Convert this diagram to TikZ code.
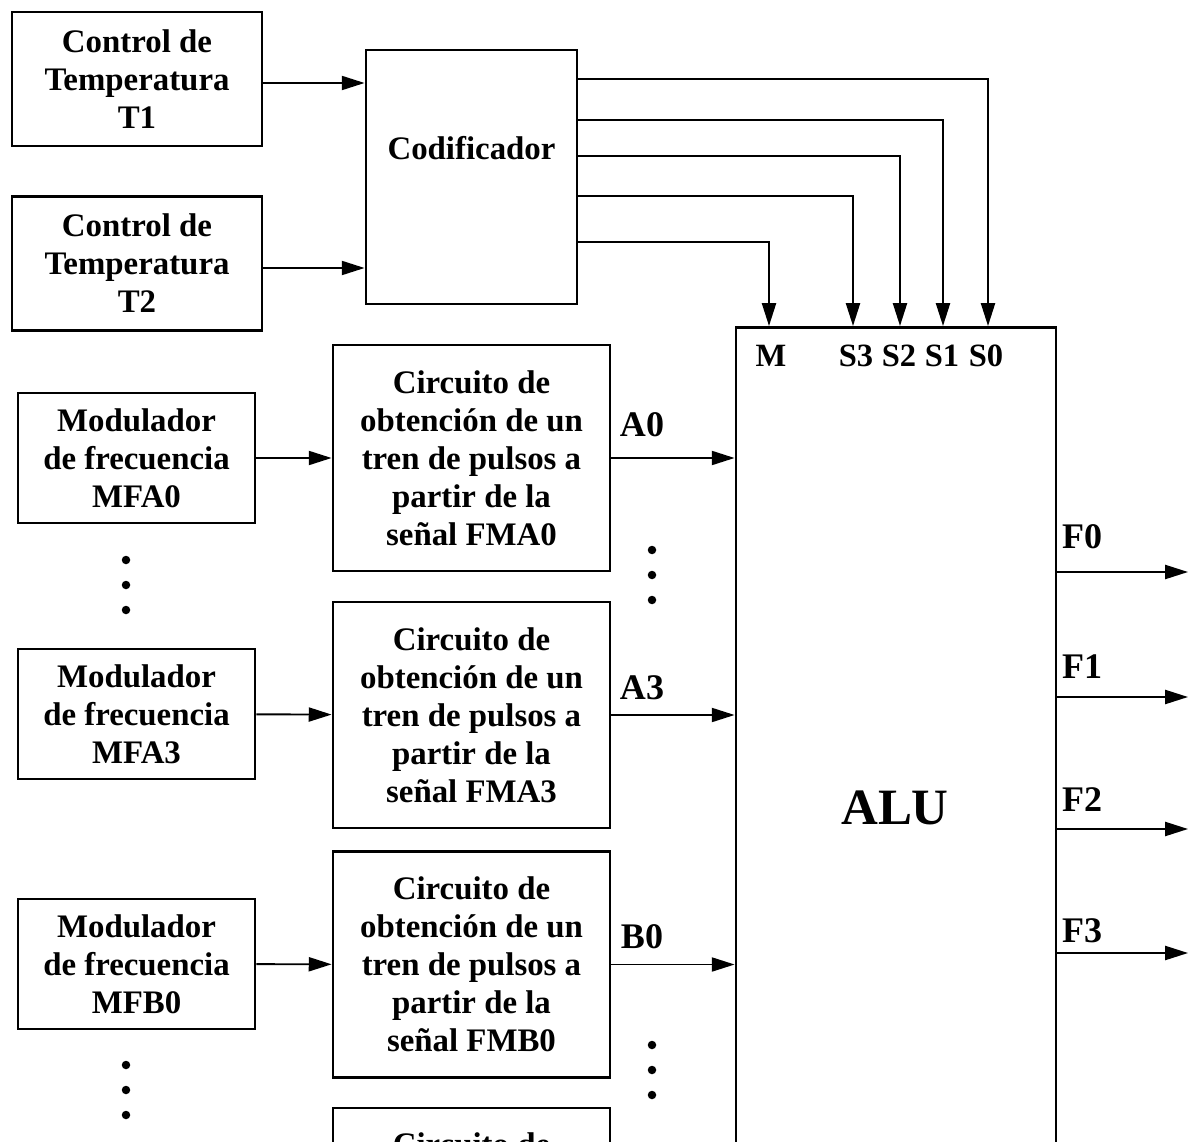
\documentclass[tikz,border=0pt]{standalone}
\usepackage{fontspec}
\setmainfont{Liberation Serif}
\usetikzlibrary{positioning,calc,arrows.meta}

\begin{document}
\begin{tikzpicture}[
    font=\fontsize{18.7}{21.6}\selectfont\bfseries,
    block/.style={draw, line width=1.6pt, align=center, inner sep=0pt},
    ctrl/.style={block, minimum width=5cm, minimum height=2.68cm},
    modul/.style={block, minimum width=4.74cm, minimum height=2.6cm},
    circ/.style={block, minimum width=5.54cm, minimum height=4.52cm},
    sig/.style={draw, line width=1.1pt, -{Triangle[length=13pt,width=8pt]}},
    pin/.style={font=\fontsize{18.5}{21}\selectfont\bfseries},
    bus/.style={font=\fontsize{20.5}{24}\selectfont\bfseries},
    dot/.style={circle, fill=black, inner sep=0pt, minimum size=0.17cm}
]

% Frame of the picture
\useasboundingbox (0,0) rectangle (23.76,-22.84);
\clip (0,0) rectangle (23.76,-22.84);

% Temperature controls and encoder
\node[ctrl] (t1) at (2.74,-1.58) {Control de\\Temperatura\\T1};
\node[ctrl] (t2) at (2.74,-5.27) {Control de\\Temperatura\\T2};
\node[block, minimum width=4.22cm, minimum height=5.08cm] (cod) at (9.43,-3.54) {};
\node (codtxt) at (9.43,-2.96) {Codificador};

% ALU
\node[block, anchor=north, minimum width=6.4cm, minimum height=18cm] (alu) at (17.92,-6.52) {};
\node[font=\fontsize{29}{34}\selectfont\bfseries] (alutxt) at (17.9,-16.16) {ALU};

% Control inputs of the ALU
\coordinate (inM) at (15.38,-6.52);
\coordinate (inS3) at (17.06,-6.52);
\coordinate (inS2) at (18.0,-6.52);
\coordinate (inS1) at (18.86,-6.52);
\coordinate (inS0) at (19.76,-6.52);
\node[pin] (lM) at (15.42,-7.12) {M};
\node[pin] (lS3) at (17.12,-7.12) {S3};
\node[pin] (lS2) at (17.98,-7.12) {S2};
\node[pin] (lS1) at (18.84,-7.12) {S1};
\node[pin] (lS0) at (19.72,-7.12) {S0};

% Modulators and pulse circuits
\node[modul] (mfa0) at (2.73,-9.16) {Modulador\\de frecuencia\\MFA0};
\node[modul] (mfa3) at (2.73,-14.28) {Modulador\\de frecuencia\\MFA3};
\node[modul] (mfb0) at (2.73,-19.28) {Modulador\\de frecuencia\\MFB0};
\node[circ] (ca0) at (9.43,-9.16) {Circuito de\\obtención de un\\tren de pulsos a\\partir de la\\señal FMA0};
\node[circ] (ca3) at (9.43,-14.3) {Circuito de\\obtención de un\\tren de pulsos a\\partir de la\\señal FMA3};
\node[circ] (cb0) at (9.43,-19.29) {Circuito de\\obtención de un\\tren de pulsos a\\partir de la\\señal FMB0};
\node[circ] (cb3) at (9.43,-24.42) {};
\node (cb3txt) at (9.43,-22.88) {Circuito de};

% Bus labels
\node[bus] (la0) at (12.84,-8.5) {A0};
\node[bus] (la3) at (12.84,-13.76) {A3};
\node[bus] (lb0) at (12.84,-18.74) {B0};

% Outputs
\coordinate (o0) at (23.76,-11.44);
\coordinate (o1) at (23.76,-13.94);
\coordinate (o2) at (23.76,-16.58);
\coordinate (o3) at (23.76,-19.06);
\node[bus] (lf0) at (21.64,-10.74) {F0};
\node[bus] (lf1) at (21.64,-13.34) {F1};
\node[bus] (lf2) at (21.64,-16.0) {F2};
\node[bus] (lf3) at (21.64,-18.62) {F3};

% Dots
\foreach \y [count=\i] in {-11.2,-11.7,-12.2,-21.3,-21.8,-22.3}
    \node[dot] (dl\i) at (2.52,\y) {};
\foreach \y [count=\i] in {-11.0,-11.5,-12.0,-20.9,-21.4,-21.9}
    \node[dot] (dr\i) at (13.04,\y) {};

% Connections
\draw[sig] (t1.east |- 0,-1.66) -- (cod.west |- 0,-1.66);
\draw[sig] (t2.east |- 0,-5.36) -- (cod.west |- 0,-5.36);
\draw[sig] (cod.east |- 0,-1.58) -| (inS0);
\draw[sig] (cod.east |- 0,-2.4) -| (inS1);
\draw[sig] (cod.east |- 0,-3.12) -| (inS2);
\draw[sig] (cod.east |- 0,-3.92) -| (inS3);
\draw[sig] (cod.east |- 0,-4.84) -| (inM);

\draw[sig] (mfa0) -- (ca0);
\draw[sig] (mfa3) -- (ca3);
\draw[sig] (mfb0) -- (cb0);
\draw[sig] (ca0.east) -- (ca0.east -| alu.west);
\draw[sig] (ca3.east) -- (ca3.east -| alu.west);
\draw[sig] (cb0.east) -- (cb0.east -| alu.west);

\draw[sig] (alu.east |- o0) -- (o0);
\draw[sig] (alu.east |- o1) -- (o1);
\draw[sig] (alu.east |- o2) -- (o2);
\draw[sig] (alu.east |- o3) -- (o3);

\end{tikzpicture}
\end{document}
